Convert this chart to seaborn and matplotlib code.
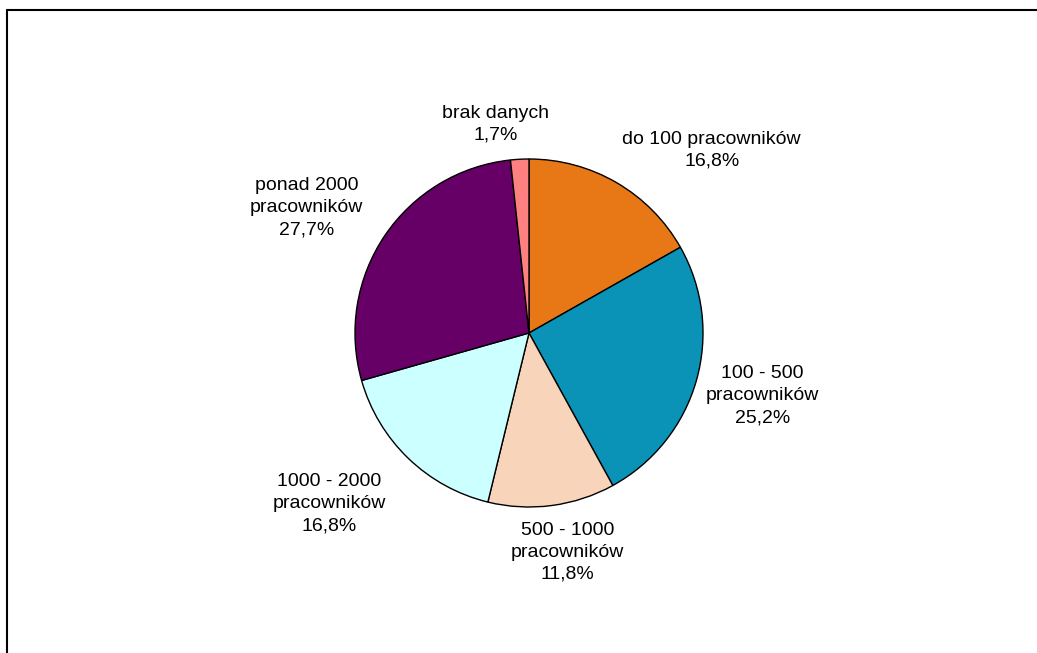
import matplotlib
matplotlib.use("Agg")
import matplotlib.pyplot as plt
from matplotlib.lines import Line2D
import seaborn as sns

# Company size categories and their shares (%)
categories = [
    "do 100 pracowników",
    "100 - 500\npracowników",
    "500 - 1000\npracowników",
    "1000 - 2000\npracowników",
    "ponad 2000\npracowników",
    "brak danych",
]
shares = [16.8, 25.2, 11.8, 16.8, 27.7, 1.7]
slice_colors = ["#E87716", "#0A93B7", "#F8D5BA", "#CCFFFF", "#660066", "#FF8080"]

# Label anchor points in pie-radius units (centre of each text block)
label_xy = [(1.05, 1.05), (1.34, -0.36), (0.22, -1.26),
            (-1.15, -0.98), (-1.28, 0.72), (-0.19, 1.20)]

sns.set_theme(style="white")
plt.rcParams["font.family"] = ["Liberation Sans", "DejaVu Sans"]

W, H, DPI = 1037, 653, 100
fig = plt.figure(figsize=(W / DPI, H / DPI), dpi=DPI)
fig.patch.set_facecolor("white")

# Square axes centred on the pie; radius 1 = 174 px
r_px = 174
half = 1.5
side = 2 * half * r_px
cx, cy = 529, 333
ax = fig.add_axes([(cx - side / 2) / W, (H - cy - side / 2) / H, side / W, side / H])

palette = sns.color_palette(slice_colors)
wedges, _ = ax.pie(
    shares,
    colors=palette,
    startangle=90,
    counterclock=False,
    radius=1,
    wedgeprops=dict(edgecolor="black", linewidth=1.0),
)
ax.set_xlim(-half, half)
ax.set_ylim(-half, half)
ax.set_aspect("equal")
ax.axis("off")

for cat, val, (lx, ly) in zip(categories, shares, label_xy):
    txt = f"{cat}\n{val:.1f}%".replace(".", ",")
    ax.text(lx, ly, txt, ha="center", va="center", fontsize=14,
            color="black", linespacing=1.4)

# Chart-area frame (top and left edges visible)
fig.add_artist(Line2D([6.5 / W, 6.5 / W], [0, 1 - 10 / H], transform=fig.transFigure,
                      color="black", linewidth=1.5))
fig.add_artist(Line2D([6.5 / W, 1], [1 - 10 / H, 1 - 10 / H], transform=fig.transFigure,
                      color="black", linewidth=1.5))

fig.savefig("out.png", dpi=DPI, facecolor="white")
